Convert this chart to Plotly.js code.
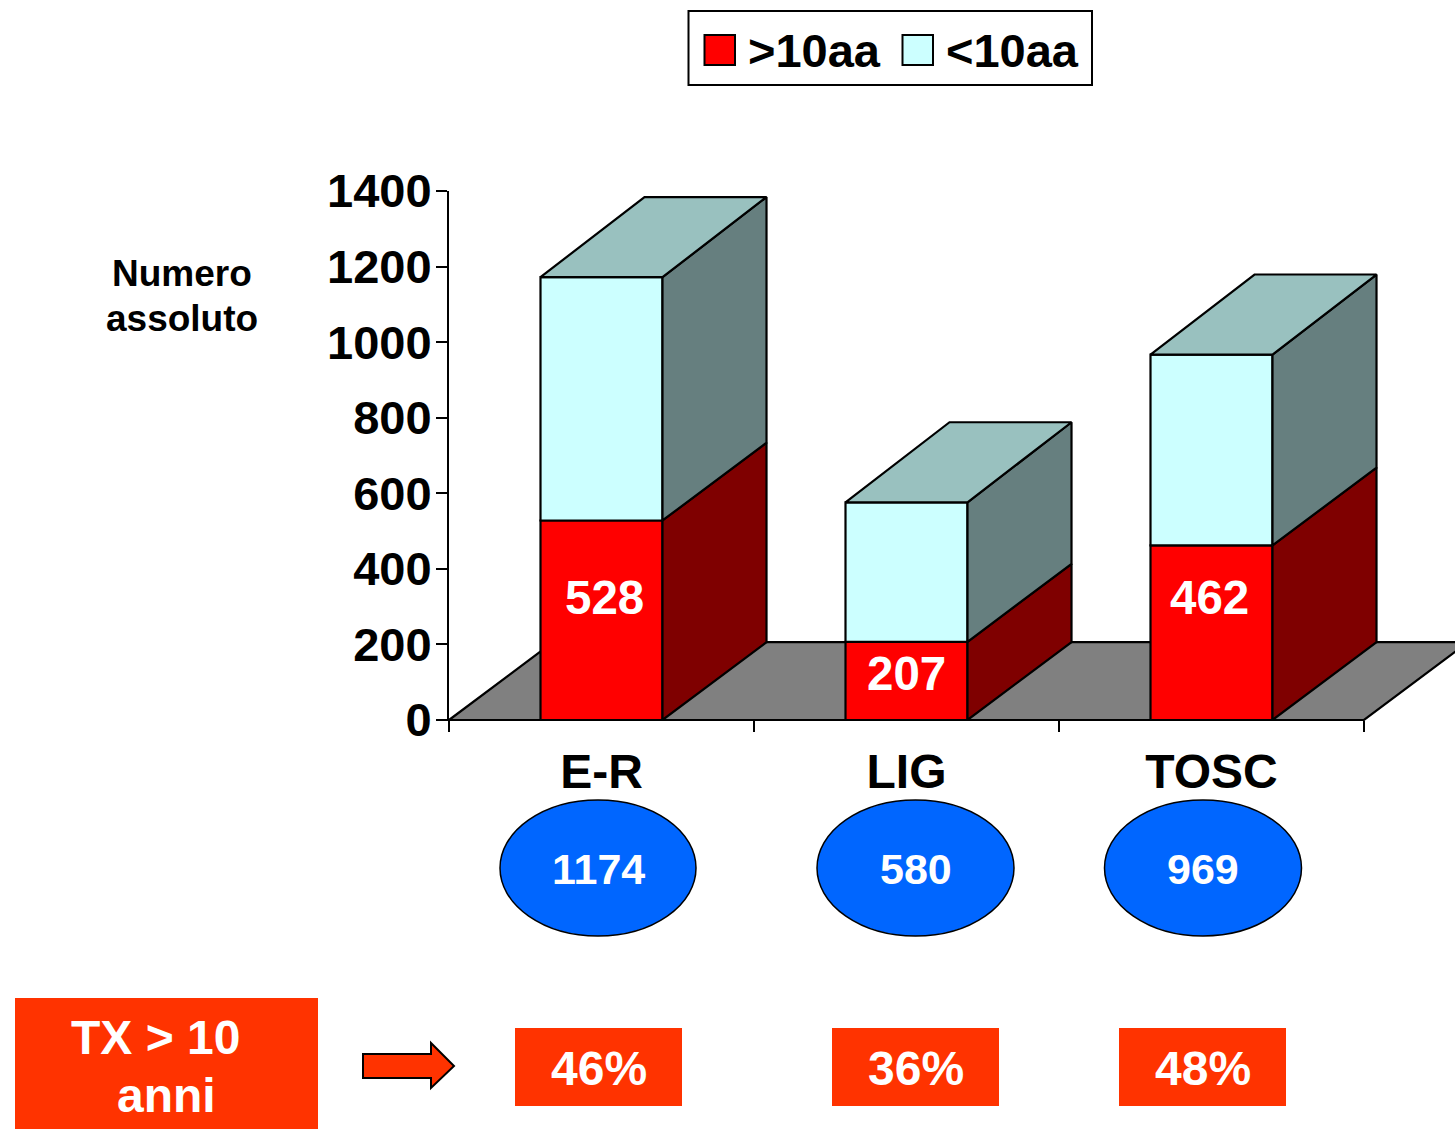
<!DOCTYPE html>
<html>
<head>
<meta charset="utf-8">
<script src="https://cdn.plot.ly/plotly-3.0.1.min.js"></script>
<style>html,body{margin:0;padding:0;background:#fff;overflow:hidden}#chart{width:1455px;height:1129px}</style>
</head>
<body>
<div id="chart"></div>
<script>
// ---------- data ----------
const regions = ['E-R', 'LIG', 'TOSC'];
const over10 = [528, 207, 462];
const under10 = [644, 369, 505];
const totals = [1174, 580, 969];
const percents = ['46%', '36%', '48%'];
const seriesNames = ['>10aa', '<10aa'];
const stackTop = over10.map((v, i) => v + under10[i]);

// ---------- pseudo-3D geometry, in axis units ----------
const barWidth = 0.4;
const depthX = 0.341;
const depthY = 206;
const depthTop = 212;
const xMin = -0.5, xEnd = 2.5, yMax = 1400;

// ---------- page geometry ----------
const W = 1455, H = 1129;
const axisL = 449, axisR = 1364, plotT = 191, plotB = 720;
const pxPerCat = (axisR - axisL) / (xEnd - xMin);
const xView = xMin + (W - axisL) / pxPerCat;   // plot runs to the page edge so the 3D depth is not clipped
const xp = x => (x - axisL) / (W - axisL);
const yp = y => (plotB - y) / (plotB - plotT);

const FONT = '"Liberation Sans", Arial, sans-serif';
const RED = '#FF0000', CYAN = '#CCFFFF', ORANGE = '#FF3300', BLUE = '#0066FF';
const RED_SIDE = '#7F0000', CYAN_SIDE = '#667F7F', CYAN_TOP = '#99C1BF', FLOOR = '#808080';
const EDGE = 2.2;

// polygons joined with gaps, derived from the values through the axes
function polyTrace(name, color, polys) {
  const x = [], y = [];
  polys.forEach(p => { p.forEach(q => { x.push(q[0]); y.push(q[1]); }); x.push(p[0][0]); y.push(p[0][1]); x.push(null); y.push(null); });
  return {type: 'scatter', mode: 'lines', name, x, y, fill: 'toself', fillcolor: color,
    line: {color: '#000', width: EDGE}, cliponaxis: false, showlegend: false, hoverinfo: 'skip', connectgaps: false};
}
const sidePoly = (i, lo, hi, dLo, dHi) => {
  const r = i + barWidth / 2;
  return [[r, lo], [r + depthX, lo + dLo], [r + depthX, hi + dHi], [r, hi]];
};
const topPoly = i => {
  const l = i - barWidth / 2, r = i + barWidth / 2, t = stackTop[i];
  return [[l, t], [l + depthX, t + depthTop], [r + depthX, t + depthTop], [r, t]];
};
const idx = regions.map((_, i) => i);

const traces = [
  polyTrace('side >10aa', RED_SIDE, idx.map(i => sidePoly(i, 0, over10[i], depthY, depthY))),
  polyTrace('side <10aa', CYAN_SIDE, idx.map(i => sidePoly(i, over10[i], stackTop[i], depthY, depthTop))),
  polyTrace('top', CYAN_TOP, idx.map(topPoly)),
  {type: 'bar', name: seriesNames[0], x: idx, y: over10, width: barWidth, marker: {color: RED, line: {color: '#000', width: EDGE}}, cliponaxis: false, showlegend: false},
  {type: 'bar', name: seriesNames[1], x: idx, y: under10, base: over10, width: barWidth, marker: {color: CYAN, line: {color: '#000', width: EDGE}}, cliponaxis: false, showlegend: false}
];

// floor, as paper fractions so it can run past the axis end
const fx = x => (x - xMin) / (xView - xMin);
const fy = y => y / yMax;
const shapes = [{
  type: 'path', xref: 'paper', yref: 'paper', layer: 'below',
  path: `M${fx(xMin)},${fy(0)} L${fx(xMin + depthX)},${fy(depthY)} L${fx(xEnd + depthX)},${fy(depthY)} L${fx(xEnd)},${fy(0)} Z`,
  fillcolor: FLOOR, line: {color: '#000', width: EDGE}
}];
const rect = (type, x0, x1, y0, y1, fill, line) => shapes.push({
  type, xref: 'paper', yref: 'paper', x0: xp(x0), x1: xp(x1), y0: yp(y1), y1: yp(y0),
  fillcolor: fill, line: line ? {color: '#000', width: line} : {width: 0}, layer: 'above'
});

// legend
rect('rect', 688.5, 1092, 11, 85, '#fff', 2);
rect('rect', 704.5, 735, 35, 65, RED, 2);
rect('rect', 902.5, 933, 35, 65, CYAN, 2);

// total ellipses and percentage boxes
const ellipseX = [[500, 696], [817, 1014], [1104.5, 1301.5]];
const boxX = [[515, 682], [832, 999], [1119, 1286]];
ellipseX.forEach(e => rect('circle', e[0], e[1], 800, 936, BLUE, 1.5));
boxX.forEach(b => rect('rect', b[0], b[1], 1028, 1106, ORANGE, 0));
rect('rect', 15, 318, 998, 1129, ORANGE, 0);

// arrow
const arrowPts = [[363, 1054], [431, 1054], [431, 1043], [454, 1066], [431, 1088], [431, 1078], [363, 1078]];
shapes.push({type: 'path', xref: 'paper', yref: 'paper', layer: 'above',
  path: 'M' + arrowPts.map(p => xp(p[0]) + ',' + yp(p[1])).join(' L') + ' Z',
  fillcolor: ORANGE, line: {color: '#000', width: 2}});

const note = (text, x, y, size, color) => ({
  text, xref: 'paper', yref: 'paper', x: xp(x), y: yp(y), xanchor: 'center', yanchor: 'middle',
  showarrow: false, font: {family: FONT, size, color, weight: 700}
});

const barLabelX = [604, 906.5, 1209];
const barLabelY = [597.5, 673.5, 597.5];
const annotations = [
  note('&gt;10aa', 814, 51, 47, '#000'),
  note('&lt;10aa', 1012.5, 51, 47, '#000'),
  note('Numero', 182, 273, 37, '#000'),
  note('assoluto', 181.5, 318, 37, '#000'),
  note('TX &gt; 10', 155.5, 1037.5, 48, '#fff'),
  note('anni', 166.5, 1095.5, 48, '#fff')
];
idx.forEach(i => {
  annotations.push(note(String(over10[i]), barLabelX[i], barLabelY[i], 47.5, '#fff'));
  annotations.push(note(String(totals[i]), (ellipseX[i][0] + ellipseX[i][1]) / 2, 869, 43, '#fff'));
  annotations.push(note(percents[i], (boxX[i][0] + boxX[i][1]) / 2, 1068.5, 48, '#fff'));
});

const layout = {
  width: W, height: H, autosize: false, showlegend: false,
  barmode: 'overlay', paper_bgcolor: '#fff', plot_bgcolor: 'rgba(0,0,0,0)',
  margin: {l: axisL, r: 0, t: plotT, b: H - plotB, pad: 0},
  font: {family: FONT, color: '#000'},
  xaxis: {
    range: [xMin, xView], tickmode: 'array', tickvals: idx, ticktext: regions,
    ticks: '', showgrid: false, zeroline: false, showline: false,
    tickfont: {family: FONT, size: 48, color: '#000', weight: 700}, ticklabelstandoff: 19,
    minor: {tickmode: 'array', tickvals: [-0.5, 0.5, 1.5, 2.5], ticks: 'outside', ticklen: 11, tickwidth: 2, tickcolor: '#000', showgrid: false}
  },
  yaxis: {
    range: [0, yMax], tick0: 0, dtick: 200, ticks: 'outside', ticklen: 11, tickwidth: 2, tickcolor: '#000',
    showgrid: false, zeroline: false, showline: true, linecolor: '#000', linewidth: 2,
    tickfont: {family: FONT, size: 47, color: '#000', weight: 700}, ticklabelstandoff: -5
  },
  shapes, annotations
};

Plotly.newPlot('chart', traces, layout, {displayModeBar: false, staticPlot: true});
</script>
</body>
</html>
